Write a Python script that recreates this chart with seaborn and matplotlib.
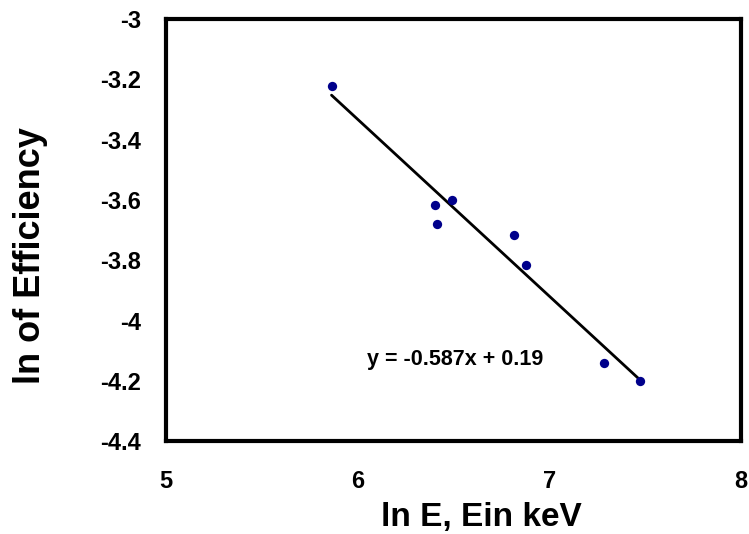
import matplotlib
matplotlib.use("Agg")
import matplotlib.pyplot as plt
import seaborn as sns
import pandas as pd

sns.set_theme(style="white")
plt.rcParams['font.family'] = ['Liberation Sans', 'DejaVu Sans']

ln_E = [5.864, 6.404, 6.413, 6.495, 6.816, 6.879, 7.288, 7.476]
ln_eff = [-3.223, -3.615, -3.681, -3.599, -3.717, -3.817, -4.141, -4.202]
trend_x = [5.864, 7.476]
trend_y = [-3.252, -4.198]
equation = "y = -0.587x + 0.19"
x_ticks = [5, 6, 7, 8]
y_ticks = [-4.4, -4.2, -4, -3.8, -3.6, -3.4, -3.2, -3]

df = pd.DataFrame({"x": ln_E, "y": ln_eff})
tdf = pd.DataFrame({"x": trend_x, "y": trend_y})

fig = plt.figure(figsize=(7.49, 5.34), dpi=100)
ax = fig.add_axes([0.2216, 0.174, 0.989 - 0.2216, 0.964 - 0.174])

sns.lineplot(data=tdf, x="x", y="y", ax=ax, color="black", linewidth=2, zorder=2)
sns.scatterplot(data=df, x="x", y="y", ax=ax, color="#00008B", s=45,
                edgecolor="#00008B", linewidth=0, zorder=3)

ax.set_xlim(5, 8)
ax.set_ylim(-4.4, -3)
ax.set_xticks(x_ticks)
ax.set_xticklabels([f"{v:g}" for v in x_ticks])
ax.set_yticks(y_ticks)
ax.set_yticklabels([f"{v:g}" for v in y_ticks])

for s in ax.spines.values():
    s.set_color("black")
    s.set_linewidth(3)

ax.tick_params(axis="both", which="major", direction="out", length=5.8, width=1,
               color="#b0b0b0", labelsize=17, labelcolor="black")
ax.tick_params(axis="y", pad=12)
ax.tick_params(axis="x", pad=15)
for lab in ax.get_xticklabels() + ax.get_yticklabels():
    lab.set_fontweight("bold")

ax.set_xlabel("ln E, Ein keV", fontsize=24, fontweight="bold", color="black")
ax.set_ylabel("ln of Efficiency", fontsize=26, fontweight="bold", color="black")
ax.xaxis.set_label_coords(0.549, -0.145)
ax.yaxis.set_label_coords(-0.205, 0.44)

ax.text(6.51, -4.13, equation, fontsize=15.5, fontweight="bold",
        ha="center", va="center", color="black")

fig.savefig("out.png", dpi=100)
